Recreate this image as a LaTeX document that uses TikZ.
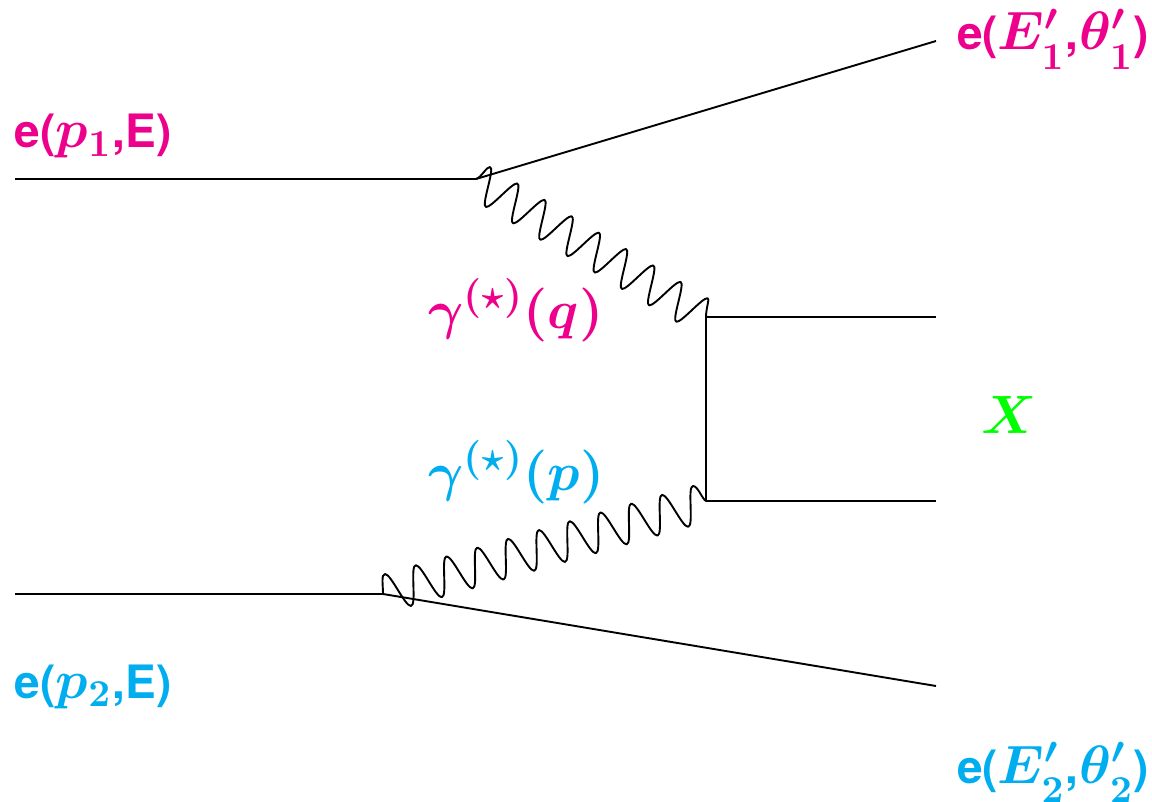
\documentclass[tikz,border=0pt]{standalone}
\usepackage[no-math]{fontspec}
\setmainfont{TeX Gyre Heros}[BoldFont={TeX Gyre Heros Bold}]
\DeclareFontShape{OML}{cmm}{b}{it}{<-> cmmib10}{}
\DeclareFontShape{OMS}{cmsy}{b}{n}{<-> cmbsy10}{}
\DeclareFontShape{OT1}{cmr}{bx}{n}{<-> cmbx10}{}
\DeclareMathSizes{46}{54}{38}{26}
\DeclareMathSizes{54}{54}{40}{27}
\definecolor{mag}{HTML}{EC008C}
\definecolor{cya}{HTML}{00AEEF}
\definecolor{grn}{HTML}{00FF00}
\newcommand{\lowsub}[1]{\lower3pt\hbox{$\scriptstyle #1$}}
\tikzset{
  fermion/.style={line width=1.9pt,black,line join=round},
  photon/.style={line width=1.9pt,black,line join=round,line cap=round},
  lab/.style={anchor=base west,inner sep=0pt,outer sep=0pt,font=\fontsize{46}{46}\selectfont\bfseries\boldmath},
  glab/.style={lab,font=\fontsize{54}{54}\selectfont\bfseries\boldmath},
}
\begin{document}
\begin{tikzpicture}[x=1pt,y=-1pt]
\useasboundingbox (0,0) rectangle (1152,802);
\coordinate (in1) at (15,179);
\coordinate (v1) at (476,179);
\coordinate (out1) at (936,41);
\coordinate (in2) at (15,594);
\coordinate (v2) at (383,594);
\coordinate (out2) at (936,686);
\coordinate (q1) at (706,317);
\coordinate (q2) at (706,501);
\coordinate (x1) at (936,317);
\coordinate (x2) at (936,501);
\draw[fermion] (in1) -- (v1) -- (out1);
\draw[fermion] (in2) -- (v2) -- (out2);
\draw[fermion] (x1) -- (q1) -- (q2) -- (x2);
% upper photon
\draw[photon] (v1) .. controls (482,177) and (486,167) .. (490,167)
  foreach \i in {0,...,7} {
    .. controls ({495.5+27.2*\i},{167.5+16.4*\i}) and ({480.5+27.2*\i},{206.5+16.4*\i}) .. ({486+27.2*\i},{207+16.4*\i})
    .. controls ({491.5+27.2*\i},{207.5+16.4*\i}) and ({511.7+27.2*\i},{182.9+16.4*\i}) .. ({517.2+27.2*\i},{183.4+16.4*\i})
  }
  .. controls (710,298) and (706,308) .. (q1);
% lower photon
\draw[photon] (v2) .. controls (383,585) and (381,574) .. (385,574)
  foreach \i in {0,...,9} {
    .. controls ({391+30.8*\i},{574-8.8*\i}) and ({405+30.8*\i},{606.5-8.8*\i}) .. ({411+30.8*\i},{606-8.8*\i})
    .. controls ({417+30.8*\i},{605.5-8.8*\i}) and ({409.8+30.8*\i},{565.2-8.8*\i}) .. ({415.8+30.8*\i},{565.2-8.8*\i})
  }
  .. controls (698,486) and (702,499) .. (q2);
\node[lab,text=mag] (l1) at (15,148) {e($p_1$\kern2pt,E)};
\node[lab,text=cya] (l2) at (15,698) {e($p_2$\kern2pt,E)};
\node[lab,text=mag] (l3) at (957,50) {e($E'_{\lowsub{1}}$\kern2pt,\kern1pt$\theta'_{\lowsub{1}}$\kern1pt)};
\node[lab,text=cya] (l4) at (957,783) {e($E'_{\lowsub{2}}$\kern2pt,\kern1pt$\theta'_{\lowsub{2}}$\kern1pt)};
\node[glab,text=mag] (l5) at (428,328.5) {$\gamma^{(\star)}\kern1pt(q)$};
\node[glab,text=cya] (l6) at (428,490) {$\gamma^{(\star)}\kern1pt(p)$};
\node[glab,text=grn] (l7) at (981,433) {$X$};
\end{tikzpicture}
\end{document}
